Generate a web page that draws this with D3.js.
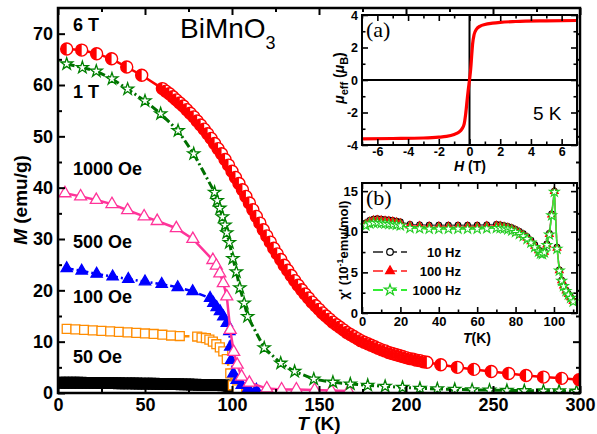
<!DOCTYPE html>
<html>
<head>
<meta charset="utf-8">
<script src="https://cdn.jsdelivr.net/npm/d3@7"></script>
<style>
body { margin: 0; background: #fff; }
svg { display: block; font-family: "Liberation Sans", Arial, sans-serif; }
</style>
</head>
<body>
<svg width="597" height="434"></svg>
<script>
// ---- main panel: M(T) at different fields ----
const t6T = [5, 13.6, 22.2, 30.8, 39.5, 48.1,
  60, 62, 64, 66, 68, 70, 72, 74, 76, 78, 80, 82, 84, 86, 88, 90, 92, 94, 96, 98,
  100, 102, 104, 106, 108, 110, 112, 114, 116, 118, 120, 122, 124, 126, 128, 130, 132, 134, 136, 138,
  140, 142, 144, 146, 148, 150, 152, 154, 156, 158, 160, 162, 164, 166, 168, 170, 172, 174, 176, 178,
  180, 182, 184, 186, 188, 190, 192, 194, 196, 198, 200, 202, 204, 206, 208, 210, 212,
  220, 229.5, 239, 249, 259, 269, 279, 289.5, 299.5];
const m6T = [67.0, 66.8, 66.1, 65.1, 63.5, 61.9,
  59.3, 58.8, 58.3, 57.7, 57.1, 56.5, 55.9, 55.2, 54.5, 53.8, 53.0, 52.2, 51.4, 50.5, 49.6, 48.6, 47.6, 46.6, 45.5, 44.4,
  43.2, 42.0, 40.8, 39.6, 38.3, 37.0, 35.7, 34.4, 33.1, 31.8, 30.6, 29.4, 28.2, 27.1, 26.0, 24.9, 23.9, 22.9, 21.9, 21.0,
  20.1, 19.3, 18.5, 17.7, 17.0, 16.3, 15.6, 15.0, 14.4, 13.8, 13.3, 12.8, 12.3, 11.8, 11.4, 11.0, 10.6, 10.2, 9.9, 9.6,
  9.3, 9.0, 8.7, 8.4, 8.2, 7.9, 7.7, 7.5, 7.3, 7.1, 6.9, 6.7, 6.6, 6.4, 6.3, 6.1, 6.0,
  5.5, 5.0, 4.6, 4.2, 3.8, 3.4, 3.1, 2.85, 2.6];

const t1T = [5, 14, 22, 31, 40, 50, 59, 69, 78, 90, 91.5, 93, 94.5, 96, 97, 98.5, 100.5, 102.5, 104.5, 107, 109,
  118.5, 128, 136, 147, 158, 168, 178, 188, 198, 208, 218, 228, 238, 248, 258, 268, 279, 288, 298];
const m1T = [64.1, 63.4, 62.7, 61.2, 59.2, 56.9, 54.4, 51.1, 46.6, 39.1, 37.5, 36.0, 34.3, 32.7, 31.2, 29.3, 26.2, 23.6, 20.5, 17.5, 14.9,
  8.8, 5.8, 4.2, 2.7, 2.1, 1.75, 1.5, 1.3, 1.1, 0.9, 0.8, 0.7, 0.6, 0.55, 0.5, 0.45, 0.4, 0.4, 0.35];

const t1000 = [4, 13, 22, 31, 40, 49.5, 57, 68, 77.5, 89, 91, 93, 95, 97, 99, 101, 103, 105.5, 110, 120, 128.5, 137, 147.5, 157, 167];
const m1000 = [38.9, 38.3, 37.6, 36.8, 35.6, 34.4, 33.5, 32.1, 30.0, 25.9, 24.8, 23.3, 21.4, 18.8, 12.3, 8.0, 5.5, 3.2, 2.0, 0.9, 0.7, 0.7, 0.6, 0.5, 0.4];

const t500 = [5, 13.6, 22.2, 31.4, 40.4, 50, 59.6, 68.8, 77.4, 87.4, 89.3, 91.2, 93.1, 95, 97, 98.5, 99, 99.5, 100.8, 102.7, 105.6, 109.4, 114];
const m500 = [24.3, 23.8, 23.2, 22.7, 22.2, 21.7, 21.2, 20.6, 19.8, 18.5, 17.5, 16.7, 15.9, 14.9, 13.6, 12.0, 9.0, 6.4, 3.8, 2.5, 1.56, 0.9, 0.6];

const t100 = [5, 10, 15, 20, 25, 30, 35, 40, 45, 50, 55, 60, 65, 70, 80, 82.5, 85, 87, 89, 91, 93, 95, 97, 99, 100.5, 103, 110];
const m100 = [12.5, 12.4, 12.3, 12.2, 12.1, 12.0, 11.9, 11.8, 11.7, 11.6, 11.5, 11.35, 11.2, 11.1, 11.0, 10.8, 10.7, 10.4, 10.0, 9.5, 8.9, 8.1, 6.6, 3.8, 1.5, 0.7, 0.4];

const t50 = [1, 3, 5, 7, 9, 11, 13, 15, 17, 19, 21, 23, 25, 27, 29, 31, 33, 35, 37, 39, 41, 43, 45, 47, 49,
  51, 53, 55, 57, 59, 61, 63, 65, 67, 69, 71, 73, 75, 77, 79, 81, 83, 85, 87, 89, 91, 93, 95, 97, 98, 99, 100];
const m50 = [2.0, 2.0, 2.0, 2.0, 2.0, 2.0, 2.0, 1.99, 1.98, 1.98, 1.97, 1.96, 1.95, 1.94, 1.93, 1.92, 1.91, 1.9, 1.89, 1.88, 1.87, 1.86, 1.85, 1.84, 1.83,
  1.82, 1.81, 1.8, 1.79, 1.78, 1.77, 1.76, 1.75, 1.73, 1.72, 1.7, 1.68, 1.66, 1.64, 1.62, 1.6, 1.58, 1.56, 1.55, 1.54, 1.53, 1.52, 1.5, 1.5, 1.4, 1.0, 0.3];

const fieldLabels = ["6 T", "1 T", "1000 Oe", "500 Oe", "100 Oe", "50 Oe"];
const fieldLabelM = [70.5, 57.5, 42.5, 28.2, 17.5, 5.8];

// ---- inset (a): mu_eff(H) at 5 K ----
const hA = [-7, -5, -3, -2, -1.5, -1, -0.7, -0.5, -0.35, -0.25, -0.15, -0.08, 0, 0.08, 0.15, 0.2, 0.3, 0.45, 0.7, 1, 1.5, 2, 3, 5, 7];
const muA = [-3.62, -3.6, -3.57, -3.52, -3.47, -3.35, -3.22, -3.02, -2.72, -2.1, -1.2, -0.6, 0, 0.7, 1.6, 2.2, 2.8, 3.12, 3.32, 3.42, 3.5, 3.55, 3.6, 3.64, 3.66];

// ---- inset (b): chi'(T) ----
const tB = [2, 4, 6, 8, 10, 12, 14, 16, 18, 20, 25, 30, 35, 40, 45, 50, 55, 60, 65, 70,
  72, 74, 76, 78, 80, 82, 84, 86, 88, 90, 92, 93, 94, 95, 96.3, 97.6, 98.8, 100.2, 101.6, 102.8, 104, 105, 106.3, 107.5, 108.7, 110];
const chi10 = [11.1, 11.4, 11.55, 11.6, 11.55, 11.5, 11.45, 11.4, 11.3, 11.2, 10.9, 10.85, 10.8, 10.8, 10.8, 10.8, 10.8, 10.8, 10.85, 10.9,
  10.85, 10.75, 10.65, 10.5, 10.3, 10.05, 9.75, 9.4, 8.95, 8.4, 7.8, 7.5, 7.4, 7.6, 8.5, 9.8, 12.2, 15.0, 8.1, 5.3, 4.05, 3.4, 2.8, 2.35, 1.95, 1.5];
const chi100 = [10.95, 11.25, 11.4, 11.45, 11.4, 11.35, 11.3, 11.25, 11.15, 11.05, 10.75, 10.7, 10.65, 10.65, 10.65, 10.65, 10.65, 10.65, 10.7, 10.75,
  10.7, 10.6, 10.5, 10.35, 10.15, 9.9, 9.6, 9.25, 8.8, 8.25, 7.7, 7.4, 7.3, 7.5, 8.4, 9.7, 12.1, 15.0, 8.0, 5.25, 4.0, 3.35, 2.75, 2.3, 1.9, 1.45];
const chi1000 = [10.75, 11.0, 11.1, 11.1, 11.05, 11.0, 10.95, 10.9, 10.85, 10.75, 10.45, 10.4, 10.35, 10.35, 10.35, 10.35, 10.35, 10.35, 10.4, 10.45,
  10.45, 10.4, 10.3, 10.15, 9.95, 9.7, 9.45, 9.1, 8.65, 8.1, 7.55, 7.3, 7.25, 7.45, 8.35, 9.65, 12.0, 14.9, 7.9, 5.2, 3.95, 3.3, 2.7, 2.25, 1.85, 1.4];
const freqLabels = ["10 Hz", "100 Hz", "1000 Hz"];

const svg = d3.select("svg");

// main scales
const x = d3.scaleLinear().domain([0, 300]).range([58, 580]);
const y = d3.scaleLinear().domain([0, 75]).range([393, 8]);
// inset scales
const xa = d3.scaleLinear().domain([-7, 7]).range([362, 577]);
const ya = d3.scaleLinear().domain([-4, 4]).range([145, 15]);
const xb = d3.scaleLinear().domain([0, 112]).range([362, 577]);
const yb = d3.scaleLinear().domain([0, 16]).range([313, 183]);

// inward ticks on all four sides, labels on bottom and left
function drawAxes(g, sx, sy, o) {
  const [x0, x1] = sx.range(), [y0, y1] = sy.range();
  const fmt = d => String(d);
  const style = sel => {
    sel.select(".domain").remove();
    sel.selectAll("line").attr("stroke", "#000").attr("stroke-width", o.tw);
    sel.selectAll("text").attr("fill", "#000").attr("font-size", o.fs).attr("font-weight", "bold");
  };
  g.append("g").attr("transform", `translate(0,${y0})`)
    .call(d3.axisBottom(sx).tickValues(o.xMinor).tickSize(-o.minor).tickFormat("")).call(style);
  g.append("g").attr("transform", `translate(0,${y0})`)
    .call(d3.axisBottom(sx).tickValues(o.xMajor).tickSize(-o.major).tickPadding(o.padX).tickFormat(fmt)).call(style);
  g.append("g").attr("transform", `translate(0,${y1})`)
    .call(d3.axisTop(sx).tickValues(o.xMinor).tickSize(-o.minor).tickFormat("")).call(style);
  g.append("g").attr("transform", `translate(0,${y1})`)
    .call(d3.axisTop(sx).tickValues(o.xMajor).tickSize(-o.major).tickFormat("")).call(style);
  g.append("g").attr("transform", `translate(${x0},0)`)
    .call(d3.axisLeft(sy).tickValues(o.yMinor).tickSize(-o.minor).tickFormat("")).call(style);
  g.append("g").attr("transform", `translate(${x0},0)`)
    .call(d3.axisLeft(sy).tickValues(o.yMajor).tickSize(-o.major).tickPadding(o.padY).tickFormat(fmt)).call(style);
  g.append("g").attr("transform", `translate(${x1},0)`)
    .call(d3.axisRight(sy).tickValues(o.yMinor).tickSize(-o.minor).tickFormat("")).call(style);
  g.append("g").attr("transform", `translate(${x1},0)`)
    .call(d3.axisRight(sy).tickValues(o.yMajor).tickSize(-o.major).tickFormat("")).call(style);
  g.append("rect").attr("x", x0).attr("y", y1).attr("width", x1 - x0).attr("height", y0 - y1)
    .attr("fill", "none").attr("stroke", "#000").attr("stroke-width", o.fw);
}

// ---------- main panel ----------
svg.append("clipPath").attr("id", "clipMain").append("rect")
  .attr("x", 58).attr("y", 8).attr("width", 522).attr("height", 385);
const plot = svg.append("g").attr("clip-path", "url(#clipMain)");

function series(tArr, mArr, o) {
  const pts = d3.zip(tArr, mArr);
  const g = plot.append("g");
  if (o.line) {
    g.append("path").datum(pts)
      .attr("fill", "none").attr("stroke", o.line).attr("stroke-width", o.lw || 2.5)
      .attr("stroke-dasharray", o.dash || null)
      .attr("d", d3.line().x(d => x(d[0])).y(d => y(d[1])));
  }
  const sym = d3.symbol().type(o.type).size(o.size);
  g.selectAll("path.mk").data(pts).enter().append("path").attr("class", "mk")
    .attr("transform", d => `translate(${x(d[0])},${y(d[1])})`)
    .attr("d", sym)
    .attr("fill", o.fill).attr("stroke", o.stroke).attr("stroke-width", o.sw || 1.3);
  return g;
}

series(t50, m50, { type: d3.symbolSquare, size: 110, fill: "#000", stroke: "#000" });
series(t100, m100, { type: d3.symbolSquare, size: 80, fill: "#fff", stroke: "#ff8c00", line: "#ff8c00", dash: "6,3" });
series(t500, m500, { type: d3.symbolTriangle, size: 55, fill: "#0000ff", stroke: "#0000ff", line: "#0000ff", dash: "7,3,2,3" });
series(t1000, m1000, { type: d3.symbolTriangle, size: 62, fill: "#fff", stroke: "#ff3399", line: "#ff3399" });
series(t1T, m1T, { type: d3.symbolStar, size: 45, fill: "#fff", stroke: "#008000", line: "#007000", lw: 3, dash: "8,3,2,3" });

// 6 T: half-filled circles
{
  const pts = d3.zip(t6T, m6T);
  const g = plot.append("g");
  g.append("path").datum(pts).attr("fill", "none").attr("stroke", "#ff0000").attr("stroke-width", 2.5)
    .attr("d", d3.line().x(d => x(d[0])).y(d => y(d[1])));
  const r = 6;
  const mk = g.selectAll("g.mk").data(pts).enter().append("g").attr("class", "mk")
    .attr("transform", d => `translate(${x(d[0])},${y(d[1])})`);
  mk.append("circle").attr("r", r).attr("fill", "#fff").attr("stroke", "#ff0000").attr("stroke-width", 1.4);
  mk.append("path").attr("d", `M0,${-r}A${r},${r} 0 0 0 0,${r}Z`).attr("fill", "#ff0000");
}

drawAxes(svg.append("g"), x, y, {
  xMajor: [0, 50, 100, 150, 200, 250, 300], xMinor: d3.range(25, 300, 50),
  yMajor: [0, 10, 20, 30, 40, 50, 60, 70], yMinor: d3.range(5, 75, 10),
  major: 7, minor: 4, padX: 5, padY: 5, fs: 18, tw: 2, fw: 2.5
});

svg.append("text").attr("x", 319).attr("y", 430).attr("text-anchor", "middle")
  .attr("font-size", 19).attr("font-weight", "bold")
  .call(t => { t.append("tspan").attr("font-style", "italic").text("T"); t.append("tspan").text(" (K)"); });
svg.append("text").attr("transform", "translate(27,200) rotate(-90)").attr("text-anchor", "middle")
  .attr("font-size", 19).attr("font-weight", "bold")
  .call(t => { t.append("tspan").attr("font-style", "italic").text("M"); t.append("tspan").text(" (emu/g)"); });

svg.selectAll("text.fl").data(fieldLabels).enter().append("text").attr("class", "fl")
  .attr("x", 73).attr("y", (d, i) => y(fieldLabelM[i]))
  .attr("font-size", 18).attr("font-weight", "bold").text(d => d);

svg.append("text").attr("x", 180).attr("y", 38).attr("font-size", 28)
  .call(t => { t.append("tspan").text("BiMnO"); t.append("tspan").attr("dy", 11).attr("font-size", 18).text("3"); });

// ---------- inset (a) ----------
const ga = svg.append("g");
ga.append("rect").attr("x", 362).attr("y", 15).attr("width", 215).attr("height", 130).attr("fill", "#fff");
ga.append("line").attr("x1", xa(-7)).attr("x2", xa(7)).attr("y1", ya(0)).attr("y2", ya(0)).attr("stroke", "#000").attr("stroke-width", 2);
ga.append("line").attr("x1", xa(0)).attr("x2", xa(0)).attr("y1", ya(-4)).attr("y2", ya(4)).attr("stroke", "#000").attr("stroke-width", 2);
ga.append("path").datum(d3.zip(hA, muA))
  .attr("fill", "none").attr("stroke", "#ff0000").attr("stroke-width", 3.2)
  .attr("d", d3.line().curve(d3.curveMonotoneX).x(d => xa(d[0])).y(d => ya(d[1])));
drawAxes(ga, xa, ya, {
  xMajor: [-6, -4, -2, 0, 2, 4, 6], xMinor: [-7, -5, -3, -1, 1, 3, 5, 7],
  yMajor: [-4, -2, 0, 2, 4], yMinor: [-3, -1, 1, 3],
  major: 6, minor: 3.5, padX: 2, padY: 4, fs: 12.5, tw: 1.6, fw: 2
});
ga.append("text").attr("x", 366).attr("y", 37).attr("font-family", "'Liberation Serif', 'Times New Roman', serif")
  .attr("font-size", 22).text("(a)");
ga.append("text").attr("x", 533).attr("y", 120).attr("font-size", 19).text("5 K");
ga.append("text").attr("x", 470).attr("y", 171).attr("text-anchor", "middle").attr("font-size", 14).attr("font-weight", "bold")
  .call(t => { t.append("tspan").attr("font-style", "italic").text("H"); t.append("tspan").text(" (T)"); });
ga.append("text").attr("transform", "translate(344,78) rotate(-90)").attr("text-anchor", "middle")
  .attr("font-size", 14).attr("font-weight", "bold")
  .call(t => {
    t.append("tspan").attr("font-style", "italic").text("μ");
    t.append("tspan").attr("dy", 4).attr("font-size", 11).text("eff");
    t.append("tspan").attr("dy", -4).text(" (");
    t.append("tspan").attr("font-style", "italic").text("μ");
    t.append("tspan").attr("dy", 4).attr("font-size", 11).text("B");
    t.append("tspan").attr("dy", -4).text(")");
  });

// ---------- inset (b) ----------
const gb = svg.append("g");
gb.append("rect").attr("x", 362).attr("y", 183).attr("width", 215).attr("height", 130).attr("fill", "#fff");
const bSeries = [
  { v: chi10, line: "#555", dash: null, type: d3.symbolCircle, size: 26, fill: "#fff", stroke: "#000" },
  { v: chi100, line: "#ff5050", dash: "5,2", type: d3.symbolTriangle, size: 26, fill: "#ff0000", stroke: "#ff0000" },
  { v: chi1000, line: "#33ee33", dash: null, type: d3.symbolStar, size: 30, fill: "#fff", stroke: "#22cc22" }
];
bSeries.forEach(s => {
  const pts = d3.zip(tB, s.v);
  gb.append("path").datum(pts).attr("fill", "none").attr("stroke", s.line).attr("stroke-width", 1.5)
    .attr("stroke-dasharray", s.dash)
    .attr("d", d3.line().x(d => xb(d[0])).y(d => yb(d[1])));
  gb.selectAll(null).data(pts).enter().append("path")
    .attr("transform", d => `translate(${xb(d[0])},${yb(d[1])})`)
    .attr("d", d3.symbol().type(s.type).size(s.size))
    .attr("fill", s.fill).attr("stroke", s.stroke).attr("stroke-width", 1.1);
});
drawAxes(gb, xb, yb, {
  xMajor: [0, 20, 40, 60, 80, 100], xMinor: [10, 30, 50, 70, 90, 110],
  yMajor: [0, 5, 10, 15], yMinor: [2.5, 7.5, 12.5],
  major: 6, minor: 3.5, padX: 4, padY: 4, fs: 13, tw: 1.6, fw: 2
});
gb.append("text").attr("x", 366).attr("y", 205).attr("font-family", "'Liberation Serif', 'Times New Roman', serif")
  .attr("font-size", 22).text("(b)");
gb.append("text").attr("x", 477).attr("y", 343).attr("text-anchor", "middle").attr("font-size", 14).attr("font-weight", "bold")
  .call(t => { t.append("tspan").attr("font-style", "italic").text("T"); t.append("tspan").text("(K)"); });
gb.append("text").attr("transform", "translate(348,250) rotate(-90)").attr("text-anchor", "middle")
  .attr("font-size", 13).attr("font-weight", "bold")
  .call(t => {
    t.append("tspan").text("χ' (10");
    t.append("tspan").attr("dy", -5).attr("font-size", 9).text("-1");
    t.append("tspan").attr("dy", 5).text("emu/mol)");
  });
// legend
const leg = gb.selectAll("g.leg").data(bSeries).enter().append("g").attr("class", "leg")
  .attr("transform", (d, i) => `translate(0,${[252, 271, 290][i]})`);
leg.append("line").attr("x1", 373).attr("x2", 407).attr("stroke", d => d.line).attr("stroke-width", 2)
  .attr("stroke-dasharray", "10,4");
leg.append("path").attr("transform", "translate(390,0)")
  .attr("d", d => d3.symbol().type(d.type).size(d.size * 1.3)())
  .attr("fill", d => d.fill).attr("stroke", d => d.stroke).attr("stroke-width", 1.2);
leg.append("text").attr("x", 461).attr("y", 5).attr("text-anchor", "end")
  .attr("font-size", 13).attr("font-weight", "bold").text((d, i) => freqLabels[i]);
</script>
</body>
</html>
